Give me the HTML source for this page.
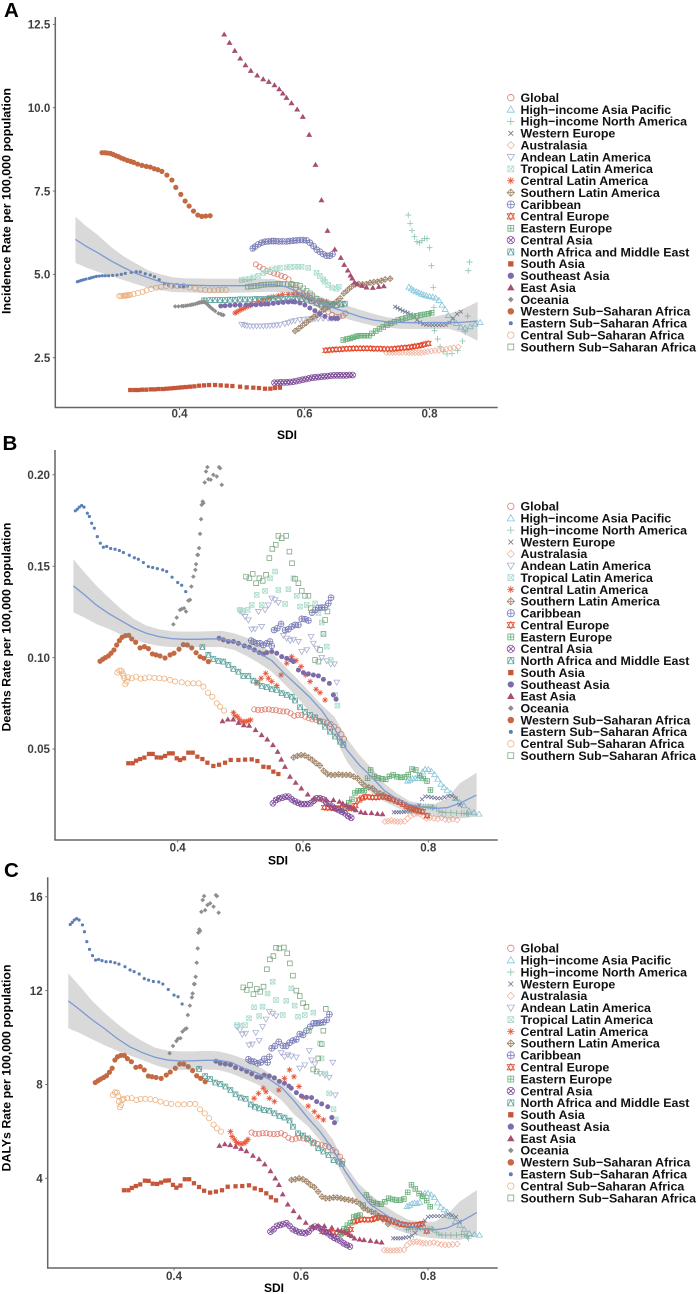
<!DOCTYPE html>
<html lang="en">
<head>
<meta charset="utf-8">
<title>Incidence, deaths and DALYs rate versus SDI</title>
<style>
html,body{margin:0;padding:0;background:#fff;}
svg{display:block;font-family:"Liberation Sans",Arial,sans-serif;font-weight:bold;filter:blur(0.35px);}
</style>
</head>
<body>
<svg id="chart" xmlns="http://www.w3.org/2000/svg" width="698" height="1294" viewBox="0 0 698 1294">
  <rect x="0" y="0" width="698" height="1294" fill="#fff"/>
  <text x="4" y="17" font-size="20.5" fill="#000">A</text>
  <text x="2.5" y="450" font-size="20.5" fill="#000">B</text>
  <text x="4" y="877" font-size="20.5" fill="#000">C</text>
  <text transform="translate(10.5,201) rotate(-90)" text-anchor="middle" font-size="12" textLength="226" lengthAdjust="spacingAndGlyphs" fill="#000">Incidence Rate per 100,000 population</text>
  <text transform="translate(10.5,627) rotate(-90)" text-anchor="middle" font-size="12" textLength="209" lengthAdjust="spacingAndGlyphs" fill="#000">Deaths Rate per 100,000 population</text>
  <text transform="translate(10.5,1068) rotate(-90)" text-anchor="middle" font-size="12" textLength="207" lengthAdjust="spacingAndGlyphs" fill="#000">DALYs Rate per 100,000 population</text>
  <text x="287" y="439" text-anchor="middle" font-size="12" fill="#000">SDI</text>
  <text x="278" y="864.5" text-anchor="middle" font-size="12" fill="#000">SDI</text>
  <text x="274" y="1292" text-anchor="middle" font-size="12" fill="#000">SDI</text>
</svg>
<script>
// ---------- tick labels ----------
const xTickValues = [0.4, 0.6, 0.8];
const xTickLabels = ["0.4", "0.6", "0.8"];
const yTickValuesA = [2.5, 5, 7.5, 10, 12.5];
const yTickLabelsA = ["2.5", "5.0", "7.5", "10.0", "12.5"];
const yTickValuesB = [0.05, 0.10, 0.15, 0.20];
const yTickLabelsB = ["0.05", "0.10", "0.15", "0.20"];
const yTickValuesC = [4, 8, 12, 16];
const yTickLabelsC = ["4", "8", "12", "16"];

// ---------- SDI per region ----------
const sdiGlobal = [.5222,.528,.5338,.5396,.5454,.5512,.557,.5628,.5686,.5744,.5802,.586,.5918,.5976,.6034,.6092,.615,.6208,.6266,.6324,.6382,.644,.6498,.6556,.6614,.6655];
const sdiHiAsiaPacific = [.767,.771,.775,.779,.783,.787,.791,.795,.8,.805,.81,.815,.82,.825,.83,.836,.843,.85,.857,.865,.873,.881];
const sdiHiNorthAmerica = [.766,.769,.772,.776,.78,.784,.788,.792,.796,.8,.803,.806,.807,.808,.813,.817,.822,.828,.836,.845,.853,.857,.861,.862,.864];
const sdiWesternEurope = [.745,.749,.753,.757,.761,.765,.77,.775,.78,.785,.79,.795,.8,.805,.81,.815,.82,.826,.832,.838,.844,.85];
const sdiAustralasia = [.731,.736,.741,.746,.751,.756,.762,.767,.772,.777,.782,.787,.792,.797,.803,.809,.815,.821,.827,.833,.839,.846];
const sdiAndean = [.4995,.5038,.5075,.5128,.5181,.5234,.5288,.5341,.5394,.5448,.5501,.5554,.5607,.5687,.574,.5794,.5847,.5927,.598,.606,.6129,.6166,.6219,.6299,.6379,.6443,.6501,.6539];
const sdiTropical = [.4995,.5048,.5118,.5181,.5261,.5341,.5394,.5474,.5554,.5607,.5714,.5767,.5847,.59,.5953,.606,.6193,.6246,.6299,.6326,.6379,.6443,.6512,.6549];
const sdiCentralLatin = [.4889,.4915,.4953,.4985,.5022,.5059,.5102,.5134,.5165,.5261,.5331,.5405,.5448,.5501,.5581,.565,.574,.582,.5889,.5969,.6043,.6113,.6209,.6272,.6352];
const sdiSouthernLatin = [.585,.591,.597,.603,.609,.615,.621,.627,.633,.639,.645,.651,.657,.663,.669,.675,.681,.687,.693,.699,.705,.711,.717,.723,.729,.737];
const sdiCaribbean = [.5173,.5208,.5261,.5315,.5368,.5421,.5474,.5501,.5538,.5591,.565,.5714,.5767,.582,.5873,.5927,.598,.6033,.6086,.6144,.6197,.6246,.6299,.6352,.6405,.6448];
const sdiCentralEurope = [.634,.6395,.645,.6505,.656,.6615,.667,.6725,.678,.6835,.689,.6945,.7,.7055,.711,.7165,.722,.7275,.733,.7385,.744,.7495,.755,.7605,.766,.771,.776,.781,.786,.791,.798];
const sdiEasternEurope = [.662,.668,.673,.678,.683,.688,.693,.698,.703,.708,.714,.72,.726,.732,.738,.744,.75,.756,.762,.768,.774,.78,.786,.792,.798,.8035];
const sdiCentralAsia = [.552,.557,.562,.567,.572,.577,.582,.587,.592,.597,.602,.607,.612,.617,.622,.627,.632,.637,.642,.647,.652,.657,.662,.667,.672,.677];
const sdiNorthAfrica = [.4394,.449,.4569,.4649,.4729,.4809,.4889,.4969,.5048,.5128,.5208,.5272,.5341,.5421,.5501,.5581,.566,.574,.582,.5873,.5953,.6033,.6113,.6193,.6272,.6352,.6432,.6512,.6592,.6645];
const sdiSouthAsia = [.3212,.3282,.3335,.3399,.3468,.3542,.3601,.3665,.3734,.3798,.3862,.392,.3984,.4037,.4101,.417,.4239,.4314,.4394,.4474,.4569,.466,.4756,.4846,.4969,.5075,.5181,.5272,.5368,.5453,.5527,.5607];
const sdiSoutheastAsia = [.466,.4729,.4809,.4889,.4969,.5064,.5144,.5224,.5304,.5368,.5421,.5501,.5581,.566,.574,.5809,.5847,.5927,.6006,.6086,.6166,.6246,.6326,.6421,.6485,.6528];
const sdiEastAsia = [.4715,.48,.4885,.4971,.5056,.5141,.5243,.5339,.5429,.552,.5595,.5653,.5712,.5792,.5883,.5973,.6075,.6176,.6272,.6368,.6485,.6581,.6635,.6693,.6736,.6763,.68,.6843,.6923,.6992,.7093,.7189,.7269];
const sdiOceania = [.3931,.3984,.4037,.4064,.4101,.4133,.417,.4197,.4218,.425,.4282,.4293,.4314,.4325,.4341,.4357,.4373,.4383,.4399,.441,.4431,.4452,.4474,.449,.4527,.4569,.4623,.466,.4676,.4703];
const sdiWesternSSA = [.276,.2803,.2845,.2893,.2936,.2983,.3026,.3069,.3111,.3164,.3218,.3266,.3329,.3399,.3468,.3532,.3596,.3654,.3718,.3798,.3878,.3941,.4021,.409,.4154,.4224,.4293,.4357,.442,.449];
const sdiEasternSSA = [.2366,.2398,.243,.2467,.2505,.2558,.259,.2627,.267,.2717,.2765,.2813,.2866,.293,.30,.3069,.3133,.3228,.3308,.3372,.3452,.3532,.36,.3675,.376,.3824,.391,.40,.4064,.4128];
const sdiCentralSSA = [.3037,.3069,.3101,.3122,.3133,.3148,.3164,.3186,.3207,.3266,.3335,.3409,.3473,.3548,.3627,.3707,.3787,.3878,.3957,.4064,.416,.425,.4335,.441,.4484,.4553,.4623,.4676,.474];
const sdiSouthernSSA = [.5091,.5144,.5197,.5251,.5304,.5357,.541,.5463,.5511,.5565,.5607,.566,.573,.5783,.5825,.5873,.5927,.598,.6033,.6086,.6123,.6193,.6246,.6272,.6326,.6352,.639];

// ---------- panel A: incidence ----------
const incGlobal = [5.3,5.23,5.17,5.11,5.07,5.03,5,4.96,4.92,4.85,4.71,4.6,4.48,4.4,4.34,4.3,4.21,4.13,4.06,3.98,3.88,3.78,3.73,3.73,3.76,3.83];
const incHiAsiaPacific = [4.62,4.57,4.52,4.48,4.45,4.41,4.39,4.36,4.34,4.32,4.29,4.22,4.08,3.95,3.77,3.62,3.53,3.42,3.39,3.43,3.51,3.56];
const incHiNorthAmerica = [6.78,6.53,6.32,6.13,5.98,5.95,6.01,6.08,6.07,5.8,5.26,4.61,4.01,3.31,3.06,2.83,2.68,2.61,2.63,2.71,3.0,3.28,3.75,5.11,5.37];
const incWesternEurope = [4.03,3.99,3.95,3.91,3.88,3.85,3.8,3.73,3.63,3.56,3.51,3.49,3.48,3.48,3.48,3.48,3.48,3.49,3.55,3.68,3.81,3.88];
const incAustralasia = [2.66,2.66,2.66,2.66,2.66,2.66,2.66,2.65,2.65,2.65,2.65,2.65,2.67,2.68,2.7,2.71,2.72,2.74,2.76,2.78,2.8,2.82];
const incAndean = [3.5,3.48,3.46,3.45,3.45,3.45,3.45,3.45,3.46,3.46,3.47,3.48,3.49,3.52,3.55,3.59,3.61,3.64,3.65,3.66,3.67,3.67,3.67,3.68,3.68,3.68,3.68,3.68];
const incTropical = [4.83,4.85,4.87,4.91,4.96,5.04,5.09,5.15,5.18,5.19,5.21,5.22,5.23,5.23,5.23,5.2,5.05,4.95,4.85,4.78,4.68,4.6,4.57,4.63];
const incCentralLatin = [3.84,3.87,3.91,3.95,3.98,4.01,4.05,4.07,4.1,4.18,4.25,4.28,4.31,4.33,4.36,4.39,4.4,4.41,4.41,4.37,4.31,4.25,4.2,4.18,4.18];
const incSouthernLatin = [3.3,3.38,3.47,3.55,3.65,3.73,3.78,3.88,3.96,4.03,4.11,4.18,4.28,4.43,4.53,4.63,4.7,4.71,4.7,4.71,4.75,4.77,4.78,4.81,4.85,4.87];
const incCaribbean = [5.78,5.83,5.9,5.95,5.98,5.99,6,6,6,5.99,5.99,5.99,6,6.01,6.02,6.03,6.03,6.02,5.95,5.85,5.74,5.68,5.61,5.56,5.56,5.61];
const incCentralEurope = [2.72,2.73,2.74,2.75,2.75,2.76,2.77,2.77,2.78,2.78,2.78,2.78,2.78,2.78,2.77,2.77,2.77,2.76,2.76,2.76,2.77,2.78,2.79,2.8,2.81,2.82,2.84,2.85,2.87,2.9,2.93];
const incEasternEurope = [3.03,3.06,3.08,3.11,3.14,3.16,3.16,3.16,3.16,3.23,3.3,3.36,3.42,3.48,3.53,3.58,3.63,3.66,3.69,3.72,3.74,3.76,3.78,3.8,3.82,3.85];
const incCentralAsia = [1.75,1.75,1.76,1.76,1.76,1.77,1.78,1.8,1.82,1.84,1.86,1.88,1.9,1.91,1.92,1.93,1.94,1.95,1.96,1.97,1.97,1.97,1.97,1.97,1.98,1.98];
const incNorthAfrica = [4.22,4.23,4.23,4.23,4.23,4.24,4.24,4.25,4.25,4.25,4.26,4.26,4.26,4.27,4.27,4.27,4.27,4.27,4.27,4.27,4.26,4.24,4.2,4.15,4.1,4.08,4.07,4.08,4.1,4.12];
const incSouthAsia = [1.53,1.53,1.53,1.54,1.54,1.55,1.55,1.56,1.56,1.57,1.58,1.59,1.6,1.61,1.62,1.63,1.64,1.66,1.67,1.68,1.68,1.67,1.66,1.65,1.63,1.61,1.6,1.59,1.57,1.57,1.59,1.6];
const incSoutheastAsia = [4.05,4.06,4.07,4.08,4.08,4.08,4.09,4.09,4.1,4.11,4.11,4.13,4.15,4.16,4.17,4.18,4.17,4.14,4.08,3.99,3.91,3.82,3.74,3.68,3.68,3.68];
const incEastAsia = [12.2,11.95,11.71,11.48,11.28,11.11,10.97,10.86,10.78,10.68,10.56,10.43,10.3,10.14,9.95,9.73,9.19,8.29,7.23,6.31,5.75,5.5,5.29,5.12,4.97,4.88,4.76,4.71,4.66,4.61,4.6,4.63,4.65];
const incOceania = [4.04,4.04,4.05,4.05,4.06,4.07,4.08,4.09,4.1,4.11,4.13,4.14,4.15,4.16,4.16,4.17,4.17,4.17,4.17,4.16,4.13,4.09,4.05,4.02,3.96,3.9,3.83,3.81,3.79,3.78];
const incWesternSSA = [8.65,8.65,8.64,8.63,8.6,8.56,8.53,8.49,8.46,8.42,8.39,8.36,8.31,8.27,8.24,8.22,8.17,8.14,8.09,7.98,7.83,7.61,7.4,7.2,7.05,6.9,6.78,6.74,6.75,6.76];
const incEasternSSA = [4.78,4.8,4.82,4.84,4.86,4.88,4.9,4.92,4.94,4.95,4.96,4.96,4.96,4.97,4.98,5.0,5.03,5.06,5.08,5.07,5.02,4.98,4.93,4.84,4.72,4.68,4.64,4.63,4.63,4.65];
const incCentralSSA = [4.35,4.35,4.36,4.36,4.36,4.37,4.37,4.38,4.38,4.41,4.44,4.48,4.52,4.56,4.6,4.63,4.65,4.66,4.66,4.65,4.61,4.58,4.55,4.53,4.52,4.52,4.53,4.53,4.53];
const incSouthernSSA = [4.63,4.64,4.65,4.66,4.68,4.69,4.7,4.7,4.7,4.71,4.71,4.71,4.7,4.7,4.68,4.68,4.66,4.58,4.5,4.43,4.37,4.26,4.21,4.18,4.13,4.11,4.11];

// ---------- panel B: deaths ----------
const deathsGlobal = [.0717,.0714,.0714,.0717,.0717,.0714,.0712,.0708,.0705,.0705,.0695,.0682,.0686,.0686,.0677,.0668,.0662,.0659,.0653,.065,.0644,.0637,.0622,.0604,.0581,.0555];
const deathsHiAsiaPacific = [.0325,.033,.0338,.0339,.0339,.0355,.0375,.0389,.0388,.0378,.036,.0335,.0308,.0291,.0275,.0258,.023,.0208,.019,.0162,.0152,.0144];
const deathsHiNorthAmerica = [.0175,.0178,.018,.018,.0182,.0182,.0185,.0185,.0185,.0185,.0183,.0183,.018,.018,.0175,.016,.0155,.0152,.0152,.015,.0148,.0148,.0147,.0145,.0145];
const deathsWesternEurope = [.0154,.0154,.0154,.0155,.0156,.0157,.0157,.016,.0178,.0192,.0225,.024,.024,.0236,.0233,.023,.023,.0236,.0243,.0243,.023,.0194];
const deathsAustralasia = [.0103,.0105,.0108,.0105,.0103,.0103,.0105,.012,.0135,.0142,.0148,.0145,.0132,.0121,.0124,.0121,.0118,.0124,.0115,.0112,.0116,.0112];
const deathsAndean = [.1255,.1243,.1224,.1206,.1155,.1157,.1252,.117,.1261,.1288,.1325,.1316,.1301,.112,.1106,.1093,.11,.1088,.1033,.1042,.1115,.1078,.1051,.1,.0982,.0964,.0965,.0865];
const deathsTropical = [.1261,.1257,.1261,.1288,.1343,.1288,.1365,.1434,.1471,.137,.1294,.1374,.1434,.1338,.1279,.1288,.1297,.1243,.1192,.113,.106,.0987,.0796,.0737];
const deathsCentralLatin = [.0699,.0681,.0677,.0662,.065,.065,.065,.0655,.0659,.0863,.0887,.0914,.0887,.0869,.0847,.0905,.0969,.1005,.0984,.0951,.0905,.0869,.0827,.0808,.0768];
const deathsSouthernLatin = [.0454,.0462,.0467,.0464,.0454,.044,.0422,.0409,.0381,.0363,.0358,.0358,.0361,.0358,.0358,.0358,.0349,.0339,.0316,.0297,.029,.0285,.0266,.0257,.0248,.023];
const deathsCaribbean = [.1093,.1086,.1078,.1078,.1069,.1078,.1088,.1064,.1151,.1161,.1184,.1151,.1155,.117,.1179,.1179,.1212,.121,.1203,.1246,.1261,.1272,.1274,.1274,.1297,.1328];
const deathsCentralEurope = [.018,.0178,.0177,.0175,.0175,.0177,.0178,.0177,.0175,.019,.0221,.0232,.0239,.0237,.0235,.0235,.0237,.0239,.0236,.023,.0222,.0215,.0207,.0197,.0187,.0178,.0172,.0166,.0161,.0157,.0135];
const deathsEasternEurope = [.0165,.018,.0205,.0225,.026,.027,.0272,.0272,.034,.0385,.035,.0342,.0337,.0334,.035,.0358,.0348,.0345,.0347,.036,.039,.0385,.0355,.0339,.0325,.0276];
const deathsCentralAsia = [.0203,.0221,.023,.0234,.0239,.0239,.0224,.0214,.0206,.0199,.0199,.0199,.0203,.0217,.023,.023,.0224,.021,.0197,.0184,.0175,.0166,.0157,.0148,.0133,.0124];
const deathsNorthAfrica = [.1057,.1015,.0993,.0982,.0978,.096,.0938,.0923,.09,.09,.0874,.0863,.0845,.0838,.0827,.0823,.0805,.0796,.0786,.0765,.0728,.0704,.0686,.0673,.065,.0622,.0595,.0568,.054,.0522];
const deathsSouthAsia = [.0422,.0422,.0436,.0445,.0453,.0473,.0473,.0454,.0453,.0462,.0476,.0476,.0449,.044,.0449,.048,.048,.0458,.0445,.0425,.0407,.0414,.0425,.044,.044,.0442,.0443,.0434,.0403,.04,.0376,.0363];
const deathsSoutheastAsia = [.1106,.1097,.1088,.1088,.1078,.1064,.1057,.1042,.1027,.102,.1027,.1033,.1024,.1005,.0996,.0987,.0978,.0932,.0918,.0911,.0905,.09,.0881,.0859,.0796,.0772];
const deathsEastAsia = [.0653,.0662,.0662,.0644,.0631,.0628,.0604,.0577,.0553,.0522,.0485,.0443,.0403,.0349,.0316,.0285,.0252,.023,.0226,.0224,.0221,.0212,.0203,.0193,.0184,.0181,.0175,.0166,.0155,.0151,.015,.0146,.0144];
const deathsOceania = [.1182,.1219,.1261,.1266,.127,.1252,.1312,.1316,.1389,.1443,.148,.1511,.1562,.1562,.1599,.1677,.1757,.1836,.1854,.1845,.1958,.2018,.2042,.1976,.1973,.2,.1991,.2042,.2036,.1945];
const deathsWesternSSA = [.098,.0991,.1,.1009,.1024,.1042,.1069,.1093,.1111,.112,.1122,.1102,.1084,.1053,.106,.1049,.102,.1015,.1009,.0998,.1015,.1024,.1046,.1071,.1069,.1053,.1027,.1005,.0996,.0978];
const deathsEasternSSA = [.1803,.1812,.1823,.1832,.1823,.179,.1772,.1735,.1708,.1662,.1626,.1604,.1608,.1597,.1593,.1586,.1575,.156,.1546,.1538,.152,.1498,.1493,.1487,.148,.1471,.144,.1411,.1396,.1361];
const deathsCentralSSA = [.0918,.0929,.0929,.0914,.0901,.0887,.0854,.0869,.0892,.0887,.0896,.0885,.0887,.0892,.0889,.0887,.0885,.0878,.0869,.0865,.0859,.0859,.0859,.0841,.0808,.0786,.075,.0732,.071];
const deathsSouthernSSA = [.1443,.1434,.1458,.1407,.1434,.142,.1453,.1544,.1595,.1617,.1666,.1653,.1666,.158,.1516,.1431,.1407,.1365,.1338,.1338,.127,.0987,.0978,.1042,.113,.1206,.1252];

// ---------- panel C: DALYs ----------
const dalysGlobal = [5.95,5.9,5.9,5.92,5.92,5.9,5.89,5.89,5.92,5.85,5.73,5.66,5.69,5.73,5.7,5.66,5.61,5.53,5.46,5.41,5.38,5.34,5.21,5.11,4.92,4.74];
const dalysHiAsiaPacific = [2.8,2.85,2.92,2.94,2.93,2.98,3.25,3.36,3.36,3.3,3.18,2.95,2.77,2.66,2.57,2.37,2.15,2,1.82,1.65,1.6,1.58];
const dalysHiNorthAmerica = [1.8,1.82,1.83,1.83,1.85,1.85,1.87,1.87,1.87,1.87,1.85,1.85,1.83,1.82,1.7,1.62,1.58,1.58,1.58,1.58,1.6,1.6,1.55,1.5,1.44];
const dalysWesternEurope = [1.44,1.44,1.44,1.44,1.46,1.48,1.5,1.56,1.67,1.87,2.1,2.2,2.36,2.38,2.39,2.39,2.39,2.39,2.47,2.42,2.35,2.15];
const dalysAustralasia = [.94,.93,.92,.92,.93,.94,.95,1.15,1.27,1.29,1.3,1.27,1.24,1.23,1.24,1.26,1.22,1.18,1.16,1.16,1.18,1.2];
const dalysAndean = [10.46,10.32,10.14,10.18,9.68,9.72,10.21,9.87,10.46,10.78,11.1,11.03,10.92,9.35,9.18,9.26,9.21,9.16,8.69,8.83,9.44,9.04,8.87,8.47,8.4,8.3,8.94,7.55];
const dalysTropical = [10.53,10.51,10.53,10.82,11.29,10.92,11.32,11.88,12.38,11.6,10.96,11.57,12.1,11.36,10.89,10.96,11.06,10.6,9.75,9.11,8.47,7.62,6.95,6.51];
const dalysCentralLatin = [5.99,5.78,5.66,5.52,5.49,5.46,5.49,5.56,5.66,7.41,7.62,7.84,7.69,7.41,7.27,7.76,8.26,8.62,8.33,7.91,7.45,7.08,6.84,6.63,6.49];
const dalysSouthernLatin = [3.93,3.96,4,3.96,3.86,3.72,3.62,3.43,3.22,3.15,3.15,3.18,3.18,3.15,3.11,3.08,3.05,3.01,2.91,2.72,2.65,2.58,2.51,2.39,2.25,2.05];
const dalysCaribbean = [9.07,9,8.97,8.9,8.94,9.09,8.94,9.18,9.54,9.64,9.82,9.65,9.64,9.78,9.87,9.92,10.15,10.11,10.29,10.46,10.61,10.61,10.63,10.65,10.75,10.99];
const dalysCentralEurope = [1.73,1.72,1.7,1.68,1.68,1.68,1.68,1.72,1.82,2.15,2.2,2.25,2.24,2.23,2.24,2.28,2.33,2.33,2.28,2.24,2.18,2.12,2.06,2.03,2.01,2,2,2.01,2.03,2.06,1.75];
const dalysEasternEurope = [1.62,1.85,2,2.1,2.35,2.4,2.43,2.85,3.29,3.1,2.97,2.92,2.9,3,3.15,3.1,3.07,3.07,3.12,3.4,3.72,3.55,3.35,3.23,3.05,2.79];
const dalysCentralAsia = [1.73,1.83,1.97,2.01,2.05,2.08,1.97,1.83,1.76,1.7,1.68,1.66,1.73,1.87,1.94,1.91,1.83,1.73,1.66,1.56,1.47,1.4,1.34,1.23,1.16,1.09];
const dalysNorthAfrica = [8.66,8.36,8.23,8.08,8.02,7.91,7.76,7.58,7.44,7.39,7.15,7.05,6.98,6.91,6.88,6.77,6.66,6.59,6.46,6.2,5.92,5.82,5.7,5.49,5.28,5.14,4.99,4.78,4.71,4.61];
const dalysSouthAsia = [3.49,3.49,3.59,3.67,3.74,3.9,3.89,3.77,3.76,3.82,3.9,3.91,3.72,3.6,3.69,3.96,3.96,3.79,3.63,3.47,3.39,3.43,3.49,3.64,3.66,3.67,3.7,3.57,3.5,3.36,3.19,3.06];
const dalysSoutheastAsia = [8.99,8.9,8.87,8.84,8.72,8.66,8.56,8.45,8.32,8.3,8.4,8.36,8.28,8.13,8.05,7.93,7.84,7.65,7.51,7.45,7.44,7.27,7.17,7.05,6.59,6.37];
const dalysEastAsia = [5.39,5.46,5.42,5.35,5.26,5.16,4.97,4.82,4.6,4.31,4,3.72,3.32,2.89,2.61,2.34,2.11,1.94,1.98,1.97,1.9,1.8,1.76,1.73,1.66,1.59,1.54,1.44,1.4,1.37,1.34,1.3,1.27];
const dalysOceania = [9.33,9.64,9.85,9.95,9.97,10.25,10.35,10.39,10.96,11.36,11.71,11.88,12.28,12.28,12.59,13.19,13.8,14.47,14.61,14.54,15.36,15.86,16.03,15.43,15.65,15.72,15.58,16.07,16.03,15.32];
const dalysWesternSSA = [8.08,8.16,8.23,8.3,8.37,8.52,8.69,9.04,9.18,9.24,9.24,9.1,8.97,8.73,8.76,8.62,8.36,8.33,8.3,8.26,8.4,8.53,8.69,8.87,8.87,8.76,8.59,8.37,8.26,8.12];
const dalysEasternSSA = [14.82,14.91,15.01,15.07,15.01,14.8,14.51,14.09,13.76,13.49,13.3,13.33,13.28,13.23,13.23,13.19,13.13,13.02,12.88,12.81,12.71,12.51,12.45,12.39,12.37,12.28,12.05,11.81,11.74,11.43];
const dalysCentralSSA = [7.55,7.66,7.65,7.51,7.27,7.03,7.13,7.34,7.39,7.41,7.42,7.34,7.38,7.39,7.37,7.34,7.27,7.2,7.17,7.15,7.15,7.17,7.17,6.94,6.77,6.56,6.29,6.13,5.99];
const dalysSouthernSSA = [12.14,12.03,12.24,11.85,12.07,11.95,12.17,12.91,13.33,13.47,13.83,13.8,13.84,13.59,13.16,12.64,12,11.77,11.46,11.31,10.29,8.64,8.55,9.11,9.72,10.29,11.22];

// ---------- smooth trend (fit and confidence band) ----------
const trendSdi = [.2335,.25,.27,.29,.31,.33,.35,.37,.39,.41,.43,.45,.47,.49,.51,.53,.55,.57,.59,.61,.63,.65,.67,.69,.71,.73,.75,.77,.79,.81,.83,.85,.877];
const trendFitA = [6.05,5.85,5.64,5.41,5.21,5.03,4.9,4.77,4.71,4.68,4.67,4.66,4.66,4.66,4.66,4.68,4.69,4.63,4.46,4.28,4.11,3.97,3.85,3.72,3.63,3.58,3.56,3.55,3.55,3.56,3.55,3.56,3.6];
const trendHighA = [6.73,6.46,6.17,5.83,5.55,5.33,5.12,5,4.91,4.88,4.88,4.87,4.87,4.87,4.87,4.87,4.86,4.78,4.6,4.45,4.3,4.17,4.05,3.93,3.82,3.72,3.67,3.67,3.71,3.74,3.82,3.93,4.18];
const trendLowA = [5.35,5.21,5.07,4.95,4.83,4.71,4.6,4.52,4.47,4.46,4.45,4.45,4.45,4.45,4.46,4.47,4.48,4.45,4.28,4.08,3.93,3.78,3.65,3.55,3.46,3.41,3.37,3.36,3.36,3.36,3.37,3.26,3.01];
const trendFitB = [.1392,.1347,.1288,.1241,.1201,.1162,.1133,.1115,.1104,.11,.11,.1102,.1102,.1088,.106,.1024,.0984,.0914,.085,.0786,.071,.0613,.0495,.0412,.0345,.0272,.0226,.0197,.0182,.0175,.0179,.0203,.0248];
const trendHighB = [.1538,.1471,.1394,.1328,.1265,.1212,.1175,.1155,.1144,.1142,.1142,.1144,.1146,.1133,.1109,.1073,.1029,.0956,.0887,.0814,.0741,.0677,.0558,.0467,.0394,.0312,.0257,.0215,.0201,.0199,.023,.0312,.037];
const trendLowB = [.1248,.1221,.1184,.1157,.1124,.11,.1078,.1064,.1057,.1057,.1057,.1057,.1057,.1042,.1009,.0969,.0923,.0856,.0786,.0704,.0641,.0571,.0431,.0339,.0257,.0212,.0179,.0148,.0139,.013,.012,.012,.013];
const trendFitC = [11.56,11.22,10.78,10.39,9.97,9.61,9.36,9.16,9.04,9,9.01,9.03,9.03,8.94,8.69,8.5,8.22,7.86,7.27,6.6,5.99,5.24,4.28,3.5,2.86,2.51,2.15,1.97,1.84,1.8,1.88,2.13,2.54];
const trendHighC = [12.74,12.24,11.6,11.07,10.6,10.18,9.85,9.57,9.44,9.41,9.41,9.43,9.41,9.28,9.09,8.83,8.47,8.08,7.48,6.94,6.37,5.66,4.57,3.79,3.29,2.86,2.51,2.22,2.15,2.15,2.44,3.01,3.5];
const trendLowC = [10.39,10.21,9.94,9.68,9.44,9.24,9.04,8.83,8.67,8.62,8.62,8.64,8.62,8.47,8.25,8.02,7.74,7.31,6.7,6.24,5.61,4.95,3.93,3.01,2.44,2.15,1.8,1.63,1.51,1.44,1.4,1.37,1.56];

// ---------- regions (legend order) ----------
const regionNames = ["Global","High\u2212income Asia Pacific","High\u2212income North America","Western Europe","Australasia","Andean Latin America","Tropical Latin America","Central Latin America","Southern Latin America","Caribbean","Central Europe","Eastern Europe","Central Asia","North Africa and Middle East","South Asia","Southeast Asia","East Asia","Oceania","Western Sub\u2212Saharan Africa","Eastern Sub\u2212Saharan Africa","Central Sub\u2212Saharan Africa","Southern Sub\u2212Saharan Africa"];
const regionSdi = [sdiGlobal,sdiHiAsiaPacific,sdiHiNorthAmerica,sdiWesternEurope,sdiAustralasia,sdiAndean,sdiTropical,sdiCentralLatin,sdiSouthernLatin,sdiCaribbean,sdiCentralEurope,sdiEasternEurope,sdiCentralAsia,sdiNorthAfrica,sdiSouthAsia,sdiSoutheastAsia,sdiEastAsia,sdiOceania,sdiWesternSSA,sdiEasternSSA,sdiCentralSSA,sdiSouthernSSA];
const regionInc = [incGlobal,incHiAsiaPacific,incHiNorthAmerica,incWesternEurope,incAustralasia,incAndean,incTropical,incCentralLatin,incSouthernLatin,incCaribbean,incCentralEurope,incEasternEurope,incCentralAsia,incNorthAfrica,incSouthAsia,incSoutheastAsia,incEastAsia,incOceania,incWesternSSA,incEasternSSA,incCentralSSA,incSouthernSSA];
const regionDeaths = [deathsGlobal,deathsHiAsiaPacific,deathsHiNorthAmerica,deathsWesternEurope,deathsAustralasia,deathsAndean,deathsTropical,deathsCentralLatin,deathsSouthernLatin,deathsCaribbean,deathsCentralEurope,deathsEasternEurope,deathsCentralAsia,deathsNorthAfrica,deathsSouthAsia,deathsSoutheastAsia,deathsEastAsia,deathsOceania,deathsWesternSSA,deathsEasternSSA,deathsCentralSSA,deathsSouthernSSA];
const regionDalys = [dalysGlobal,dalysHiAsiaPacific,dalysHiNorthAmerica,dalysWesternEurope,dalysAustralasia,dalysAndean,dalysTropical,dalysCentralLatin,dalysSouthernLatin,dalysCaribbean,dalysCentralEurope,dalysEasternEurope,dalysCentralAsia,dalysNorthAfrica,dalysSouthAsia,dalysSoutheastAsia,dalysEastAsia,dalysOceania,dalysWesternSSA,dalysEasternSSA,dalysCentralSSA,dalysSouthernSSA];

// ---------- drawing ----------
const regionColors = ["#dc7f70","#85c6da","#8cc6b2","#6f7399","#efb5a0","#aab0d2","#abdccd","#e8583c","#a08468","#7b7db9","#e4492c","#66ad78","#7f4a9a","#5ca29c","#c5563a","#7d6bab","#a84e72","#8e8e8e","#c46a42","#5b80b8","#eeb27f","#7fa985"];
const regionShapes = [1,2,3,4,5,6,7,8,9,10,11,12,13,14,15,16,17,18,19,20,21,22];
const SVGNS = "http://www.w3.org/2000/svg";
const root = document.getElementById("chart");

function circlePath(x, y, r) {
  return "M" + (x - r) + " " + y + "a" + r + " " + r + " 0 1 0 " + (2 * r) + " 0a" + r + " " + r + " 0 1 0 " + (-2 * r) + " 0Z";
}
function polyPath(points) {
  return "M" + points.map(function (p) { return p[0].toFixed(2) + " " + p[1].toFixed(2); }).join("L") + "Z";
}
function segPath(x1, y1, x2, y2) {
  return "M" + x1.toFixed(2) + " " + y1.toFixed(2) + "L" + x2.toFixed(2) + " " + y2.toFixed(2);
}
function shapePath(shape, x, y, r) {
  const c = r * 0.71;
  const plus = segPath(x - r, y, x + r, y) + segPath(x, y - r, x, y + r);
  const cross = segPath(x - c, y - c, x + c, y + c) + segPath(x - c, y + c, x + c, y - c);
  const square = polyPath([[x - c, y - c], [x + c, y - c], [x + c, y + c], [x - c, y + c]]);
  const up = polyPath([[x - r, y + r * 0.72], [x + r, y + r * 0.72], [x, y - r * 0.98]]);
  const down = polyPath([[x - r, y - r * 0.72], [x + r, y - r * 0.72], [x, y + r * 0.98]]);
  const diamond = polyPath([[x - r, y], [x, y - r], [x + r, y], [x, y + r]]);
  switch (shape) {
    case 1: case 16: case 19: case 20: case 21: return circlePath(x, y, r);
    case 2: case 17: return up;
    case 3: return plus;
    case 4: return cross;
    case 5: case 18: return diamond;
    case 6: return down;
    case 7: return square + cross;
    case 8: return plus + cross;
    case 9: return diamond + plus;
    case 10: return circlePath(x, y, r) + plus;
    case 11: return up + down;
    case 12: return square + segPath(x - c, y, x + c, y) + segPath(x, y - c, x, y + c);
    case 13: return circlePath(x, y, r) + cross;
    case 14: return square + polyPath([[x - c, y + c], [x + c, y + c], [x, y - c]]);
    default: return square;
  }
}
function shapeRadius(shape, legend) {
  const base = { 15: 3.0, 16: 2.5, 17: 3.0, 18: 2.3, 19: 2.6, 20: 1.6, 3: 3.0, 4: 2.7, 22: 3.3, 12: 3.3, 7: 3.3, 14: 3.4, 21: 2.6, 1: 2.6 }[shape] || 2.9;
  return legend ? base * 1.25 : base;
}
function isFilled(shape) {
  return shape >= 15 && shape <= 20;
}
function drawMark(parent, shape, color, x, y, legend) {
  const el = document.createElementNS(SVGNS, "path");
  el.setAttribute("d", shapePath(shape, x, y, shapeRadius(shape, legend)));
  if (isFilled(shape)) {
    el.setAttribute("fill", color);
    el.setAttribute("stroke", "none");
  } else {
    el.setAttribute("fill", "none");
    el.setAttribute("stroke", color);
    el.setAttribute("stroke-width", "0.8");
  }
  parent.appendChild(el);
  return el;
}
function svgEl(tag, parent) {
  const el = document.createElementNS(SVGNS, tag);
  parent.appendChild(el);
  return el;
}
function drawLine(parent, x1, y1, x2, y2, width) {
  const el = svgEl("line", parent);
  el.setAttribute("x1", x1);
  el.setAttribute("y1", y1);
  el.setAttribute("x2", x2);
  el.setAttribute("y2", y2);
  el.setAttribute("stroke", "#666");
  el.setAttribute("stroke-width", width);
  return el;
}

function drawPanel(p) {
  function xScale(s) { return p.x0 + (s - 0.4) * p.xk; }
  function yScale(v) { return p.y0 - (v - p.yRef) * p.yk; }

  const panel = svgEl("g", root);
  
  

  regionNames.forEach(function (name, r) {
    const group = svgEl("g", panel);
    
    
    const sdi = regionSdi[r];
    const vals = p.values[r];
    const n = Math.min(sdi.length, vals.length);
    for (let i = 0; i < n; i++) {
      const mark = drawMark(group, regionShapes[r], regionColors[r], xScale(sdi[i]), yScale(vals[i]), false);
      
      
    }
  });

  const band = svgEl("path", panel);
  
  
  const upper = trendSdi.map(function (s, i) { return [xScale(s), yScale(p.high[i])]; });
  const lower = trendSdi.map(function (s, i) { return [xScale(s), yScale(p.low[i])]; }).reverse();
  band.setAttribute("d", polyPath(upper.concat(lower)));
  band.setAttribute("fill", "#808080");
  band.setAttribute("fill-opacity", "0.3");

  const fit = svgEl("polyline", panel);
  
  
  fit.setAttribute("points", trendSdi.map(function (s, i) { return xScale(s).toFixed(2) + "," + yScale(p.fit[i]).toFixed(2); }).join(" "));
  fit.setAttribute("fill", "none");
  fit.setAttribute("stroke", "#7c9ad3");
  fit.setAttribute("stroke-width", "1.3");

  const yAxis = drawLine(panel, p.axisX, p.axisTop, p.axisX, p.axisBottom, 1.5);
  
  
  const xAxis = drawLine(panel, p.axisX - 0.7, p.axisBottom, 497.7, p.axisBottom, 1.5);
  
  

  p.yTicks.forEach(function (v, i) {
    const tick = drawLine(panel, p.axisX - 2.5, yScale(v), p.axisX, yScale(v), 0.9);
    
    
    const label = svgEl("text", panel);
    
    
    label.setAttribute("x", p.axisX - 5);
    label.setAttribute("y", yScale(v) + 4.2);
    label.setAttribute("text-anchor", "end");
    label.setAttribute("font-size", "11.6");
    label.setAttribute("fill", "#3f3f3f");
    label.textContent = p.yLabels[i];
  });
  xTickValues.forEach(function (v, i) {
    const tick = drawLine(panel, xScale(v), p.axisBottom, xScale(v), p.axisBottom + 2.5, 0.9);
    
    
    const label = svgEl("text", panel);
    
    
    label.setAttribute("x", xScale(v));
    label.setAttribute("y", p.xLabelY);
    label.setAttribute("text-anchor", "middle");
    label.setAttribute("font-size", "11.6");
    label.setAttribute("fill", "#3f3f3f");
    label.textContent = xTickLabels[i];
  });

  const legend = svgEl("g", panel);
  
  
  regionNames.forEach(function (name, r) {
    const rowY = p.legendTop + r * p.legendStep;
    const entry = svgEl("g", legend);
    
    
    const key = drawMark(entry, regionShapes[r], regionColors[r], 510.8, rowY, true);
    
    
    const text = svgEl("text", entry);
    
    
    text.setAttribute("x", 520.5);
    text.setAttribute("y", rowY + 4.3);
    text.setAttribute("font-size", "12.4");
    text.setAttribute("fill", "#111");
    text.textContent = name;
  });
}

drawPanel({ key: "incidence", x0: 179.5, xk: 625, y0: 357.7, yRef: 2.5, yk: 33.33, axisX: 55.3, axisTop: 17, axisBottom: 407.5, xLabelY: 417.6, legendTop: 97.7, legendStep: 11.87, values: regionInc, fit: trendFitA, high: trendHighA, low: trendLowA, yTicks: yTickValuesA, yLabels: yTickLabelsA });
drawPanel({ key: "deaths", x0: 177.7, xk: 626.5, y0: 749, yRef: 0.05, yk: 1828, axisX: 55, axisTop: 450, axisBottom: 840, xLabelY: 851.6, legendTop: 506.4, legendStep: 11.87, values: regionDeaths, fit: trendFitB, high: trendHighB, low: trendLowB, yTicks: yTickValuesB, yLabels: yTickLabelsB });
drawPanel({ key: "dalys", x0: 174, xk: 635, y0: 1178.3, yRef: 4, yk: 23.46, axisX: 47.7, axisTop: 877.3, axisBottom: 1268, xLabelY: 1280, legendTop: 948.3, legendStep: 11.89, values: regionDalys, fit: trendFitC, high: trendHighC, low: trendLowC, yTicks: yTickValuesC, yLabels: yTickLabelsC });
</script>
</body>
</html>
